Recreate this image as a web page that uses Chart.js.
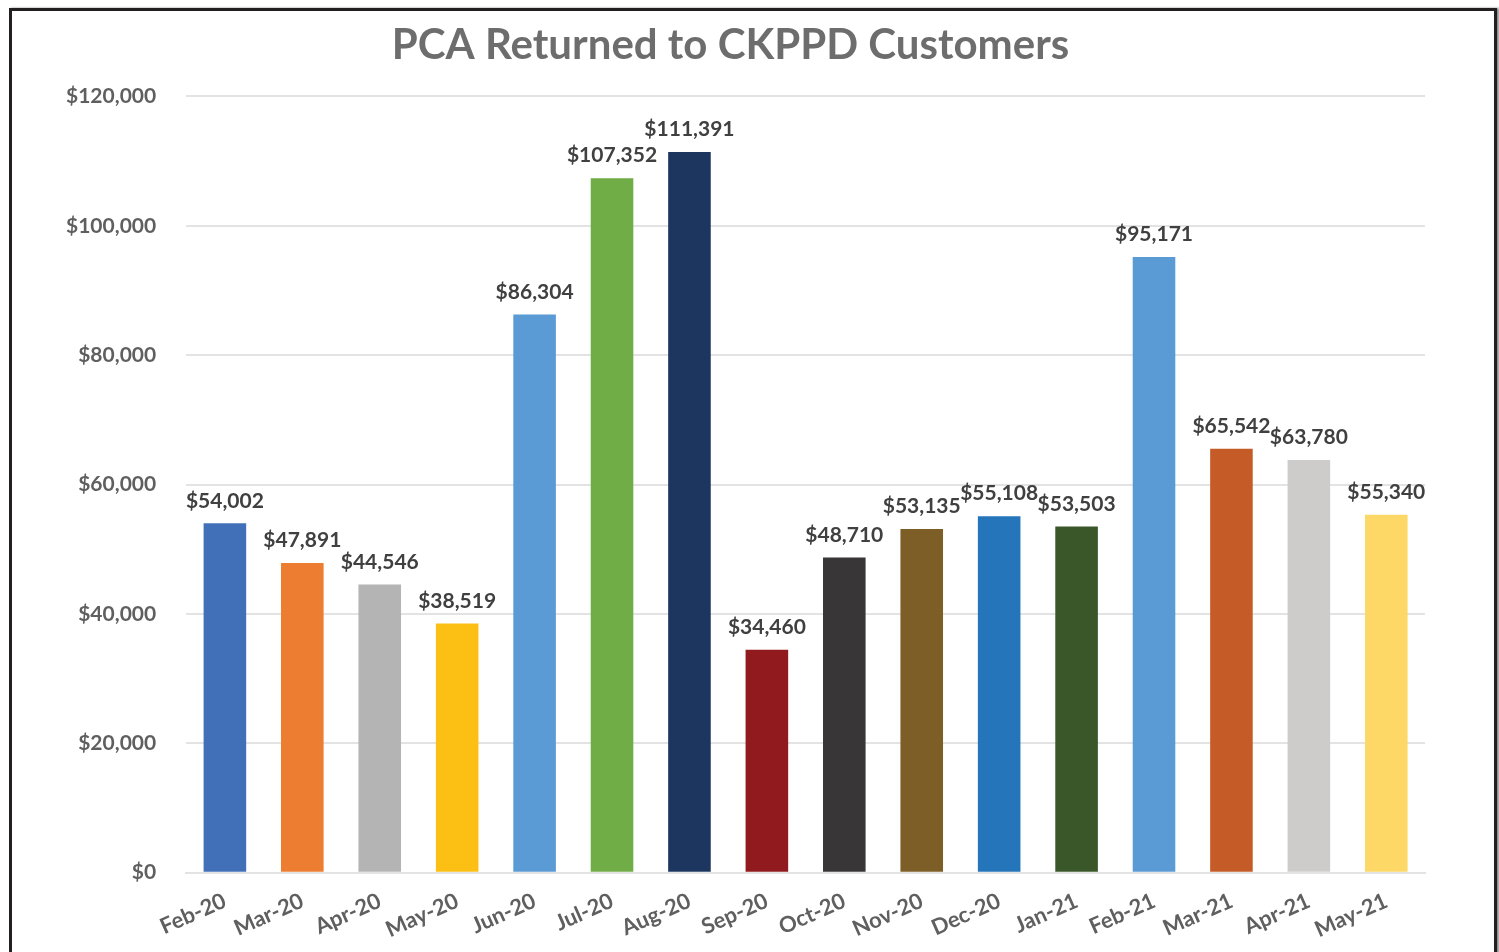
<!DOCTYPE html>
<html>
<head>
<meta charset="utf-8">
<script src="https://cdn.jsdelivr.net/npm/chart.js@4"></script>
<style>
    html, body { margin: 0; padding: 0; background: #fff; }
    #wrap { position: relative; width: 1499px; height: 952px; overflow: hidden; }
    #frame {
        position: absolute; left: 9px; top: 8px; width: 1482px; height: 990px;
        border: 3px solid #231f20; box-shadow: 2px 0 2px #888; pointer-events: none;
    }
    canvas { position: absolute; left: 0; top: 0; }
</style>
</head>
<body>
<div id="wrap">
    <canvas id="myChart" width="1499" height="952"></canvas>
    <div id="frame"></div>
</div>
<script>
'use strict';
// data
const meses = ['Feb-20', 'Mar-20', 'Apr-20', 'May-20', 'Jun-20', 'Jul-20', 'Aug-20', 'Sep-20',
    'Oct-20', 'Nov-20', 'Dec-20', 'Jan-21', 'Feb-21', 'Mar-21', 'Apr-21', 'May-21'];
const montos = [54002, 47891, 44546, 38519, 86304, 107352, 111391, 34460,
    48710, 53135, 55108, 53503, 95171, 65542, 63780, 55340];
const colores = ['#4270b8', '#ed7d31', '#b4b4b4', '#fcbf14', '#5b9bd5', '#70ad47', '#1d365f', '#911a1e',
    '#383637', '#7d5e26', '#2475b9', '#3a5729', '#5b9bd5', '#c55c28', '#cdcccb', '#fdd866'];
const yTicks = [0, 20000, 40000, 60000, 80000, 100000, 120000];

const fuente = 'Lato';
const fmt = v => '$' + v.toLocaleString('en-US');

// etiquetas encima de las barras
const etiquetas = {
    id: 'etiquetas',
    afterDatasetsDraw(chart) {
        const ctx = chart.ctx;
        const meta = chart.getDatasetMeta(0);
        ctx.save();
        ctx.font = `bold 21px "${fuente}"`;
        ctx.fillStyle = '#404040';
        ctx.textAlign = 'center';
        ctx.textBaseline = 'bottom';
        meta.data.forEach((bar, i) => {
            ctx.fillText(fmt(montos[i]), bar.x, bar.y - 12);
        });
        ctx.restore();
    }
};

const ctx = document.getElementById('myChart');
const myChart = new Chart(ctx.getContext('2d'), {
    type: 'bar',
    data: {
        labels: meses,
        datasets: [{
            data: montos,
            backgroundColor: colores,
            borderWidth: 0,
            barPercentage: 0.55,
            categoryPercentage: 1
        }]
    },
    options: {
        responsive: false,
        animation: false,
        layout: {
            padding: { left: 36, right: 74, top: 0, bottom: 2 }
        },
        plugins: {
            legend: { display: false },
            tooltip: { enabled: false },
            title: {
                display: true,
                text: 'PCA Returned to CKPPD Customers',
                color: '#6d6d6d',
                font: { family: fuente, size: 42, weight: 'bold' },
                padding: { top: 20, bottom: 26 }
            }
        },
        scales: {
            y: {
                min: 0,
                max: 120000,
                afterBuildTicks: axis => {
                    axis.ticks = yTicks.map(v => ({ value: v }));
                },
                border: { display: false },
                grid: { color: '#e3e3e3', lineWidth: 2, drawTicks: false },
                ticks: {
                    padding: 30,
                    color: '#5f5f5f',
                    font: { family: fuente, size: 21, weight: 'bold' },
                    callback: v => fmt(v)
                }
            },
            x: {
                border: { color: '#e3e3e3', width: 2 },
                grid: { display: false },
                ticks: {
                    minRotation: 24,
                    maxRotation: 24,
                    padding: 7,
                    color: '#5f5f5f',
                    font: { family: fuente, size: 22, weight: 'bold' }
                }
            }
        }
    },
    plugins: [etiquetas]
});
</script>
</body>
</html>
